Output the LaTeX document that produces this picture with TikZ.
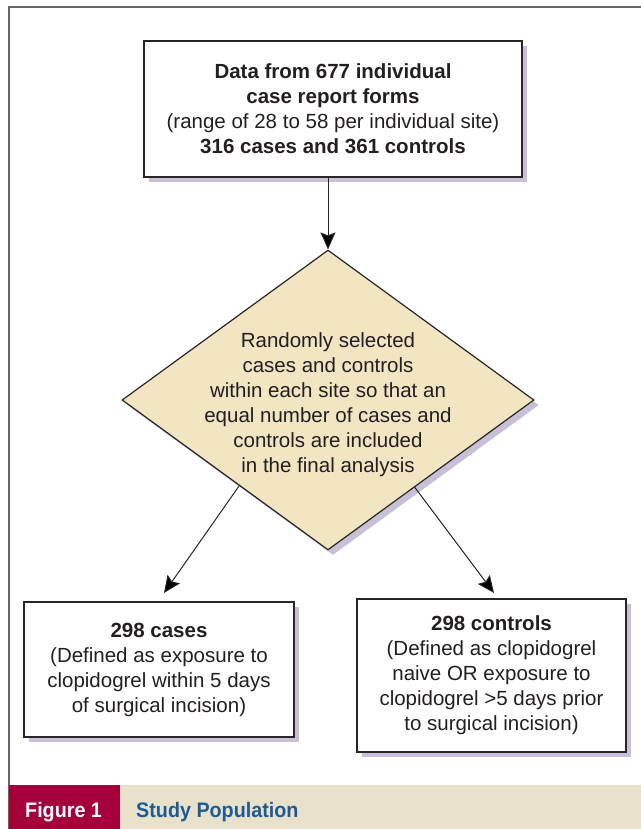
\documentclass[tikz,border=0pt]{standalone}
\usepackage{fontspec}
\setmainfont{Liberation Sans}
\newfontfamily\capfont[FakeStretch=0.94]{Liberation Sans}
\usetikzlibrary{shapes.geometric,arrows.meta,shadows,calc}
\definecolor{txt}{HTML}{231F20}
\definecolor{capred}{HTML}{A6003A}
\definecolor{capbeige}{HTML}{E9E2CB}
\definecolor{capblue}{HTML}{1C5B99}
\definecolor{diafill}{HTML}{F1E5C2}
\definecolor{shade}{HTML}{C9C0D8}
\definecolor{frame}{HTML}{666666}
\tikzset{
  boxshadow/.style={drop shadow={shadow xshift=5bp,shadow yshift=-5bp,fill=shade,opacity=1}},
  flowbox/.style={rectangle,draw=black!85,line width=1.3bp,fill=white,align=center,
    text=txt,font=\fontsize{20.5bp}{25bp}\selectfont,inner sep=0pt,boxshadow},
  decision/.style={diamond,draw=black!85,line width=1.2bp,fill=diafill,inner sep=0pt,boxshadow},
  plaintext/.style={align=center,text=txt,font=\fontsize{20.5bp}{25bp}\selectfont,inner sep=0pt},
  arr/.style={draw=black!85,line width=1bp,-{Stealth[length=17bp,width=15bp,inset=3bp,fill=black]}},
  captext/.style={font=\capfont\bfseries\fontsize{21bp}{24bp}\selectfont,inner sep=0pt}
}
\begin{document}
\begin{tikzpicture}[x=1bp,y=-1bp]
\useasboundingbox (0,0) rectangle (641,829);
% frame
\draw[frame,line width=1.6bp] (9,829) -- (9,7) -- (641,7);
% caption bar
\fill[capred] (9,785) rectangle (120,829);
\fill[capbeige] (120,785) rectangle (641,829);
\node[captext,text=white,anchor=base west] (fig) at (25,817) {Figure 1};
\node[captext,text=capblue,anchor=base west] (cap) at (136,817) {Study Population};
% top box
\node[flowbox,minimum width=378bp,minimum height=136bp] (top) at (333,109)
  {\textbf{Data from 677 individual}\\\textbf{case report forms}\\(range of 28 to 58 per individual site)\\\textbf{316 cases and 361 controls}};
% diamond
\node[decision,minimum width=412bp,minimum height=300bp] (d) at (328,400) {};
\node[plaintext] (dt) at (328,405)
  {Randomly selected\\cases and controls\\within each site so that an\\equal number of cases and\\controls are included\\in the final analysis};
% bottom boxes
\node[flowbox,minimum width=270bp,minimum height=135bp] (cases) at (159,669.5)
  {\textbf{298 cases}\\(Defined as exposure to\\clopidogrel within 5 days\\of surgical incision)};
\node[flowbox,minimum width=269bp,minimum height=153bp] (controls) at (491.5,675.5)
  {\textbf{298 controls}\\(Defined as clopidogrel\\naive OR exposure to\\clopidogrel >5 days prior\\to surgical incision)};
% connectors
\coordinate (lend) at (164,593);
\coordinate (rend) at (494,593);
\draw[arr] (top.south -| d.north) -- (d.north);
\draw[arr] ($(d.west)!0.57!(d.south)$) -- (lend);
\draw[arr] ($(d.east)!0.58!(d.south)$) -- (rend);
\end{tikzpicture}
\end{document}
